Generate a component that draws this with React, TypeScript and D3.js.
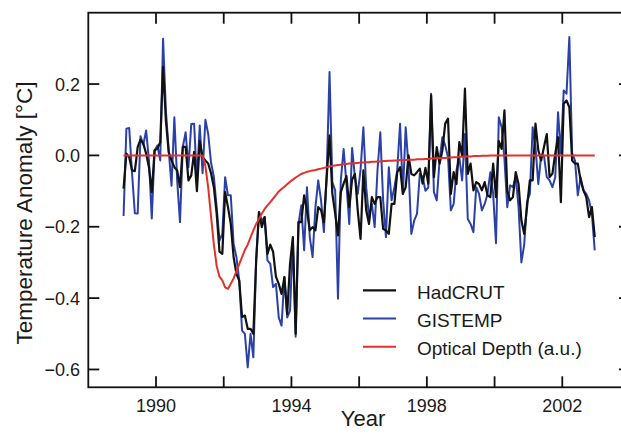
// Monthly temperature anomalies (HadCRUT, GISTEMP) with scaled volcanic optical depth, 1989-2002
import * as d3 from "d3"

// months from Jan 1989 to Dec 2002
const startYear = 1989

const hadcrut = [
  -0.093, 0.005, -0.005, -0.042, -0.044, 0.023, 0.044, 0.033, 0.005, -0.033,
  -0.103, 0.014, 0.019, 0.037, 0.248, 0.098, 0.009, -0.014, -0.033, -0.042,
  -0.089, 0.024, 0.024, -0.07, -0.056, 0.01, -0.1, 0.04, -0.005, -0.014,
  -0.023, -0.05, -0.089, -0.163, -0.27, -0.276, -0.103, -0.145, -0.192, -0.285,
  -0.332, -0.351, -0.453, -0.449, -0.486, -0.486, -0.5, -0.294, -0.159, -0.201,
  -0.173, -0.276, -0.25, -0.27, -0.34, -0.36, -0.388, -0.341, -0.444, -0.304,
  -0.229, -0.5, -0.187, -0.187, -0.112, -0.154, -0.21, -0.201, -0.21, -0.145,
  -0.154, -0.187, -0.061, 0.056, -0.107, -0.163, -0.224, -0.103, -0.079, -0.058,
  -0.145, -0.068, -0.052, -0.154, -0.234, -0.042, -0.154, -0.192, -0.117, -0.136,
  -0.117, -0.117, -0.206, -0.21, -0.22, -0.136, -0.136, -0.047, -0.033, -0.108,
  -0.089, 0.0, -0.052, -0.056, -0.047, -0.037, -0.079, -0.035, -0.079, 0.168,
  -0.061, 0.023, -0.023, 0.014, 0.089, 0.103, -0.108, -0.047, -0.08, 0.037,
  0.0, 0.187, -0.052, -0.023, -0.098, -0.075, -0.08, -0.098, -0.075, -0.112,
  -0.117, -0.023, -0.117, 0.04, 0.018, 0.126, -0.1, -0.126, -0.117, -0.047,
  -0.08, -0.182, -0.22, -0.145, -0.07, -0.07, 0.089, 0.014, -0.014, 0.023,
  0.06, -0.061, -0.051, 0.005, 0.051, -0.131, 0.145, 0.154, 0.135, -0.014,
  -0.023, -0.023, -0.07, -0.098, -0.117, -0.173, -0.145, -0.229,
]

const gistemp = [
  -0.17, 0.075, 0.077, -0.05, -0.162, -0.163, 0.054, 0.03, 0.07, -0.014,
  -0.177, 0.014, 0.028, -0.014, 0.327, 0.126, 0.014, -0.085, 0.107, -0.07,
  -0.187, 0.024, 0.065, -0.033, 0.088, 0.089, -0.07, 0.084, -0.05, 0.1,
  0.06, -0.02, -0.06, -0.145, -0.239, -0.22, -0.061, -0.112, -0.112, -0.248,
  -0.285, -0.35, -0.491, -0.5, -0.594, -0.5, -0.566, -0.294, -0.159, -0.183,
  -0.173, -0.294, -0.304, -0.369, -0.36, -0.454, -0.477, -0.341, -0.454, -0.435,
  -0.238, -0.508, -0.192, -0.14, -0.266, -0.089, -0.229, -0.285, -0.145, -0.07,
  -0.126, -0.215, -0.051, 0.234, -0.075, -0.098, -0.402, -0.07, 0.018, -0.08,
  -0.192, 0.021, -0.061, -0.108, -0.04, 0.079, -0.089, -0.173, -0.136, -0.201,
  -0.042, 0.065, -0.126, -0.229, -0.033, -0.126, -0.089, -0.042, 0.089, -0.108,
  0.079, -0.033, -0.22, -0.183, -0.164, -0.052, -0.061, -0.099, -0.09, 0.173,
  -0.103, -0.126, -0.014, 0.051, 0.028, -0.005, -0.154, -0.136, -0.042, -0.005,
  -0.07, 0.06, -0.178, -0.192, -0.215, -0.089, -0.108, -0.154, -0.136, -0.108,
  -0.047, -0.108, -0.246, 0.107, 0.079, -0.01, -0.145, -0.084, -0.089, -0.061,
  -0.145, -0.3, -0.25, -0.13, -0.108, 0.079, 0.023, -0.08, 0.0, 0.0,
  -0.061, -0.07, -0.089, -0.061, 0.121, 0.005, 0.182, 0.173, 0.332, 0.005,
  -0.014, -0.112, -0.061, -0.098, -0.108, -0.126, -0.164, -0.266,
]

// optical depth, arbitrary units, scaled onto the anomaly axis
const opticalDepth = [
  0, 0, 0, 0, 0, 0, 0, 0, 0, 0,
  0, 0, 0, 0, 0, 0, 0, 0, 0, 0,
  0, 0, 0, 0, 0, 0, 0, 0, 0, -0.03,
  -0.09, -0.17, -0.25, -0.31, -0.34, -0.35, -0.37, -0.374, -0.36, -0.345,
  -0.325, -0.305, -0.285, -0.265, -0.25, -0.23, -0.21, -0.192, -0.178, -0.163,
  -0.15, -0.14, -0.131, -0.121, -0.111, -0.101, -0.094, -0.088, -0.081, -0.074,
  -0.068, -0.062, -0.057, -0.052, -0.049, -0.046, -0.044, -0.042, -0.041, -0.039,
  -0.037, -0.035, -0.033, -0.031, -0.029, -0.028, -0.027, -0.026, -0.025, -0.024,
  -0.023, -0.023, -0.022, -0.021, -0.02, -0.02, -0.019, -0.019, -0.018, -0.018,
  -0.017, -0.017, -0.016, -0.016, -0.015, -0.015, -0.014, -0.014, -0.013, -0.013,
  -0.013, -0.012, -0.012, -0.012, -0.011, -0.011, -0.011, -0.01, -0.01, -0.009,
  -0.009, -0.008, -0.008, -0.007, -0.007, -0.006, -0.006, -0.005, -0.005, -0.004,
  -0.004, -0.003, -0.003, -0.003, -0.002, -0.002, -0.002, -0.001, -0.001, -0.001,
  0, 0, 0, 0, 0, 0, 0, 0, 0, 0,
  0, 0, 0, 0, 0, 0, 0, 0, 0, 0,
  0, 0, 0, 0, 0, 0, 0, 0, 0, 0,
  0, 0, 0, 0, 0, 0, 0, 0,
]

const xTicks = [1990, 1992, 1994, 1996, 1998, 2000, 2002]
const xLabels = [1990, 1994, 1998, 2002]
const yTicks = [-0.6, -0.4, -0.2, 0, 0.2]

const series = [
  { name: "GISTEMP", values: gistemp, color: "#2c41a8", width: 2 },
  { name: "HadCRUT", values: hadcrut, color: "#111111", width: 2.2 },
  { name: "Optical Depth (a.u.)", values: opticalDepth, color: "#e4302a", width: 2 },
]
const legendOrder = ["HadCRUT", "GISTEMP", "Optical Depth (a.u.)"]

const W = 621
const H = 435
const font = "'Liberation Sans', Arial, Helvetica, sans-serif"

export default function App() {
  const left = 88.3, right = 630, top = 12.7, bottom = 387.3
  const x = d3.scaleLinear().domain([1988, 2004]).range([left, right])
  const y = d3.scaleLinear().domain([-0.65, 0.4]).range([bottom, top])

  const line = d3.line<number>()
    .x((_, i) => x(startYear + (i + 0.5) / 12))
    .y(d => y(d))

  const tickLen = 11
  const fmt = (v: number) => (v < 0 ? "\u2212" : "") + Math.abs(v).toFixed(1)

  return (
    <svg width={W} height={H} style={{ position: "absolute", left: 0, top: 0, background: "#fff" }}
      fontFamily={font}>
      {/* series */}
      {series.map(s => (
        <path key={s.name} d={line(s.values) ?? ""} fill="none" stroke={s.color}
          strokeWidth={s.width} strokeLinejoin="round" />
      ))}

      {/* frame */}
      <rect x={left} y={top} width={right - left} height={bottom - top}
        fill="none" stroke="#111" strokeWidth={1.8} />

      {/* x ticks top and bottom, pointing in */}
      {xTicks.map(t => (
        <g key={t}>
          <line x1={x(t)} x2={x(t)} y1={bottom} y2={bottom - tickLen} stroke="#111" strokeWidth={1.8} />
          <line x1={x(t)} x2={x(t)} y1={top} y2={top + tickLen} stroke="#111" strokeWidth={1.8} />
        </g>
      ))}
      {xLabels.map(t => (
        <text key={t} x={x(t)} y={412} textAnchor="middle" fontSize={18} fill="#1a1a1a">{t}</text>
      ))}

      {/* y ticks left and right */}
      {yTicks.map(t => (
        <g key={t}>
          <line x1={left} x2={left + tickLen} y1={y(t)} y2={y(t)} stroke="#111" strokeWidth={1.8} />
          <line x1={right - tickLen} x2={right} y1={y(t)} y2={y(t)} stroke="#111" strokeWidth={1.8} />
          <text x={80} y={y(t)} dy="0.36em" textAnchor="end" fontSize={18} fill="#1a1a1a">{fmt(t)}</text>
        </g>
      ))}

      {/* axis titles */}
      <text x={363} y={426} textAnchor="middle" fontSize={22} fill="#1a1a1a">Year</text>
      <text transform="translate(32,213) rotate(-90)" textAnchor="middle" fontSize={22.5} fill="#1a1a1a">
        Temperature Anomaly [°C]
      </text>

      {/* legend */}
      {legendOrder.map((name, i) => {
        const s = series.find(d => d.name === name)!
        const by = 299 + i * 28.2
        return (
          <g key={name}>
            <line x1={363} x2={396} y1={by - 8.7} y2={by - 8.7} stroke={s.color} strokeWidth={s.width} />
            <text x={417} y={by} fontSize={19} fill="#1a1a1a">{name}</text>
          </g>
        )
      })}
    </svg>
  )
}
